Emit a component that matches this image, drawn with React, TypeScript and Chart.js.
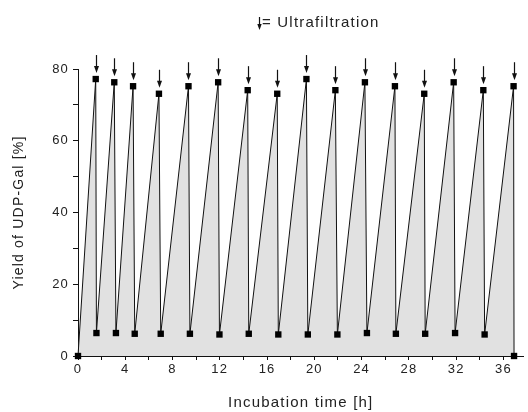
import React, { useEffect, useRef } from 'react';
import { Chart, registerables } from 'chart.js';

Chart.register(...registerables);

// Data
const startTime = 0;
const startYield = 0;
const peakTimes = [1.5, 3.07, 4.66, 6.85, 9.35, 11.86, 14.36, 16.86, 19.33, 21.78, 24.28, 26.82, 29.3, 31.79, 34.3, 36.86];
const peakYields = [77.2, 76.3, 75.2, 73.1, 75.2, 76.3, 74.1, 73.1, 77.2, 74.1, 76.3, 75.2, 73.1, 76.3, 74.1, 75.2];
const troughTimes = [1.56, 3.21, 4.8, 7.0, 9.47, 11.97, 14.45, 16.95, 19.45, 21.95, 24.45, 26.9, 29.38, 31.91, 34.41];
const troughYields = [6.4, 6.4, 6.2, 6.2, 6.2, 6.0, 6.2, 6.0, 6.0, 6.0, 6.4, 6.2, 6.2, 6.4, 6.0];
const endTime = 36.9;
const endYield = 0;

const xTickLabels = [0, 4, 8, 12, 16, 20, 24, 28, 32, 36];
const yTickLabels = [0, 20, 40, 60, 80];
const xTitle = 'Incubation time [h]';
const yTitle = 'Yield of UDP-Gal [%]';
const legendText = '= Ultrafiltration';

const FONT = "'Liberation Sans', Arial, Helvetica, sans-serif";

function buildPoints() {
  const pts: { x: number; y: number }[] = [{ x: startTime, y: startYield }];
  for (let i = 0; i < peakTimes.length; i++) {
    pts.push({ x: peakTimes[i], y: peakYields[i] });
    if (i < troughTimes.length) pts.push({ x: troughTimes[i], y: troughYields[i] });
  }
  pts.push({ x: endTime, y: endYield });
  return pts;
}

function drawArrow(ctx: CanvasRenderingContext2D, x: number, yTop: number, yTip: number, headLen: number, headHalf: number) {
  ctx.beginPath();
  ctx.moveTo(x, yTop);
  ctx.lineTo(x, yTip - headLen + 1);
  ctx.stroke();
  ctx.beginPath();
  ctx.moveTo(x - headHalf, yTip - headLen);
  ctx.lineTo(x + headHalf, yTip - headLen);
  ctx.lineTo(x, yTip);
  ctx.closePath();
  ctx.fill();
}

const spacingPlugin = {
  id: 'spacing',
  beforeDraw(chart: any) {
    (chart.ctx as any).letterSpacing = '1.2px';
  },
};

const arrowsPlugin = {
  id: 'arrows',
  afterDatasetsDraw(chart: any) {
    const ctx: CanvasRenderingContext2D = chart.ctx;
    const xs = chart.scales.x;
    const ys = chart.scales.y;
    ctx.save();
    ctx.strokeStyle = '#111';
    ctx.fillStyle = '#111';
    ctx.lineWidth = 1.2;
    for (let i = 0; i < peakTimes.length; i++) {
      const px = Math.round(xs.getPixelForValue(peakTimes[i])) + 0.5;
      const py = ys.getPixelForValue(peakYields[i]);
      const tip = py - 6;
      drawArrow(ctx, px, tip - 18, tip, 7, 2.5);
    }
    // legend
    const lx = 259.5;
    drawArrow(ctx, lx, 17, 30, 6, 2.2);
    ctx.font = `15px ${FONT}`;
    ctx.textAlign = 'left';
    ctx.textBaseline = 'middle';
    ctx.fillStyle = '#222';
    ctx.fillText(legendText, 262, 23);
    ctx.restore();
  },
};

export default function App() {
  const ref = useRef<HTMLCanvasElement | null>(null);

  useEffect(() => {
    if (!ref.current) return;
    const chart = new Chart(ref.current, {
      type: 'line',
      data: {
        datasets: [
          {
            data: buildPoints(),
            borderColor: '#111',
            borderWidth: 1,
            backgroundColor: '#e1e1e1',
            fill: 'origin',
            pointStyle: 'rect',
            pointRadius: 4.5,
            pointBackgroundColor: '#000',
            pointBorderColor: '#000',
            pointBorderWidth: 0,
            tension: 0,
            clip: false as any,
          },
        ],
      },
      options: {
        animation: false,
        responsive: false,
        devicePixelRatio: 1,
        events: [],
        layout: { padding: { top: 69, right: 3, left: 0, bottom: 0 } },
        plugins: {
          legend: { display: false },
          tooltip: { enabled: false },
          title: { display: false },
        },
        scales: {
          x: {
            type: 'linear',
            min: 0,
            max: 37.7,
            afterFit: (s: any) => {
              s.height = 56;
            },
            afterBuildTicks: (s: any) => {
              const t: any[] = [];
              for (let v = 0; v <= 37; v += 2) t.push({ value: v });
              s.ticks = t;
            },
            border: { display: true, color: '#111', width: 1 },
            grid: { drawOnChartArea: false, drawTicks: true, tickLength: 4, tickColor: '#111' },
            ticks: {
              autoSkip: false,
              maxRotation: 0,
              padding: 2,
              color: '#222',
              font: { size: 13, family: FONT },
              callback: (v: any) => (xTickLabels.includes(Number(v)) ? String(v) : ''),
            },
            title: {
              display: true,
              text: xTitle,
              color: '#222',
              font: { size: 15, family: FONT },
              padding: { top: 0, bottom: 0 },
            },
          },
          y: {
            type: 'linear',
            min: 0,
            max: 80,
            afterFit: (s: any) => {
              s.width = 78;
            },
            afterBuildTicks: (s: any) => {
              const t: any[] = [];
              for (let v = 0; v <= 80; v += 10) t.push({ value: v });
              s.ticks = t;
            },
            border: { display: true, color: '#111', width: 1 },
            grid: { drawOnChartArea: false, drawTicks: true, tickLength: 5, tickColor: '#111' },
            ticks: {
              autoSkip: false,
              padding: 4,
              color: '#222',
              font: { size: 13, family: FONT },
              callback: (v: any) => (yTickLabels.includes(Number(v)) ? String(v) : ''),
            },
            title: {
              display: true,
              text: yTitle,
              color: '#222',
              font: { size: 14, family: FONT },
              padding: { top: 11, bottom: 0 },
            },
          },
        },
      },
      plugins: [spacingPlugin, arrowsPlugin],
    });
    return () => chart.destroy();
  }, []);

  return (
    <div style={{ position: 'absolute', left: 0, top: 0, width: 528, height: 412, background: '#fff' }}>
      <canvas ref={ref} width={528} height={412} style={{ display: 'block', width: 528, height: 412 }} />
    </div>
  );
}
